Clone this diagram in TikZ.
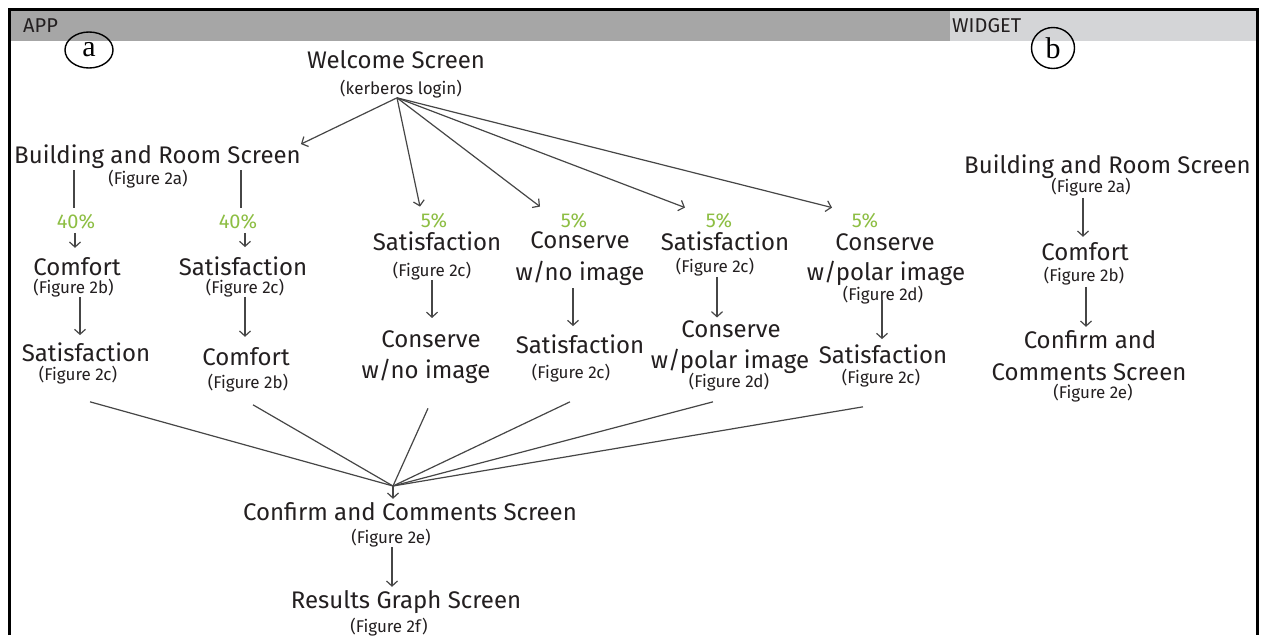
\documentclass[tikz,border=0pt]{standalone}
\usepackage{fontspec}
\setmainfont{Fira Sans}
\newfontfamily\serifa{Liberation Serif}
\usetikzlibrary{arrows.meta,calc,shapes.geometric}
\definecolor{txt}{RGB}{35,31,32}
\definecolor{ln}{RGB}{70,70,70}
\definecolor{pct}{RGB}{141,190,67}
\definecolor{appbar}{RGB}{166,166,166}
\definecolor{wbar}{RGB}{212,213,215}
\begin{document}
\begin{tikzpicture}[x=1pt,y=-1pt,
 big/.style={inner sep=0pt,anchor=base,text=txt,font=\fontsize{24}{26}\selectfont},
 sm/.style={inner sep=0pt,anchor=base,text=txt,font=\fontsize{17}{19}\selectfont},
 pc/.style={inner sep=0pt,anchor=base,text=pct,font=\fontsize{20}{22}\selectfont},
 hd/.style={inner sep=0pt,anchor=base west,text=txt,font=\fontsize{20}{22}\selectfont},
 tag/.style={draw=black,line width=1.4pt,ellipse,inner sep=0pt,text=black,font=\serifa\fontsize{30}{32}\selectfont},
 con/.style={draw=ln,line width=1.2pt},
 arr/.style={con,-{Straight Barb[length=5pt,width=11pt]}},
]
\useasboundingbox (0,0) rectangle (1261,635);
\fill[white] (0,0) rectangle (1261,635);
\fill[appbar] (10,11) rectangle (950,41);
\fill[wbar] (950,11) rectangle (1256,41);
\draw[line width=3pt] (9,635) -- (9,9.5) -- (1257,9.5) -- (1257,635);

\node[hd] (app) at (23,32) {APP};
\node[hd] (wid) at (952,32) {WIDGET};
\node[tag,minimum width=48pt,minimum height=36pt] (ta) at (89,50) {a};
\node[tag,minimum width=43pt,minimum height=41pt] (tb) at (1053,48) {b};

% app
\node[big] (welcome) at (396,68) {Welcome Screen};
\node[sm] (kerb) at (401,94) {(kerberos login)};
\node[big] (bapp) at (157.5,163) {Building and Room Screen};
\node[sm] (bappf) at (148,184) {(Figure 2a)};
\node[pc] (p1) at (76,228) {40\%};
\node[pc] (p2) at (238,228) {40\%};
\node[big] (c1) at (77,275) {Comfort};
\node[sm] (c1f) at (73.5,293) {(Figure 2b)};
\node[big] (c1b) at (86,361) {Satisfaction};
\node[sm] (c1bf) at (78,380) {(Figure 2c)};
\node[big] (c2) at (243,275) {Satisfaction};
\node[sm] (c2f) at (245,293) {(Figure 2c)};
\node[big] (c2b) at (246,365) {Comfort};
\node[sm] (c2bf) at (248,388) {(Figure 2b)};
\node[pc] (p3) at (434,227) {5\%};
\node[big] (c3) at (437,250) {Satisfaction};
\node[sm] (c3f) at (432,276) {(Figure 2c)};
\node[big] (c3b) at (431,347) {Conserve};
\node[big] (c3c) at (426,378) {w/no image};
\node[pc] (p4) at (574,227) {5\%};
\node[big] (c4) at (580,248) {Conserve};
\node[big] (c4b) at (580,280) {w/no image};
\node[big] (c4c) at (580,353) {Satisfaction};
\node[sm] (c4f) at (571,378) {(Figure 2c)};
\node[pc] (p5) at (719,227) {5\%};
\node[big] (c5) at (725,250) {Satisfaction};
\node[sm] (c5f) at (715,272) {(Figure 2c)};
\node[big] (c5b) at (731,337) {Conserve};
\node[big] (c5c) at (730,368) {w/polar image};
\node[sm] (c5cf) at (729,387) {(Figure 2d)};
\node[pc] (p6) at (865,227) {5\%};
\node[big] (c6) at (885,250) {Conserve};
\node[big] (c6b) at (886,280) {w/polar image};
\node[sm] (c6f) at (883,300) {(Figure 2d)};
\node[big] (c6c) at (883,363) {Satisfaction};
\node[sm] (c6cf) at (881,383) {(Figure 2c)};
\node[big] (cc) at (410,520) {Confirm and Comments Screen};
\node[sm] (ccf) at (391,543) {(Figure 2e)};
\node[big] (rg) at (406,608) {Results Graph Screen};
\node[sm] (rgf) at (389,632) {(Figure 2f)};

% widget
\node[big] (wb) at (1107.5,173) {Building and Room Screen};
\node[sm] (wbf) at (1091,192) {(Figure 2a)};
\node[big] (wc) at (1085,260) {Comfort};
\node[sm] (wcf) at (1084,281) {(Figure 2b)};
\node[big] (wd) at (1090,348) {Confirm and};
\node[big] (we) at (1089,380) {Comments Screen};
\node[sm] (wef) at (1093,398) {(Figure 2e)};

% fan from welcome
\coordinate (wo) at ($(kerb.south)+(-4,0)$);
\draw[arr] (wo) -- (bapp.north east);
\draw[arr] (wo) -- ($(p3.north)+(-14,-6)$);
\draw[arr] (wo) -- ($(p4.north)+(-34,-6)$);
\draw[arr] (wo) -- ($(p5.north)+(-34,-5)$);
\draw[arr] (wo) -- ($(p6.north)+(-33,-5)$);

% column 1
\draw[con] ($(bapp.south -| p1.north)+(-2,2)$) -- ($(p1.north)+(-2,-6)$);
\draw[arr] ($(p1.south)+(-1,4)$) -- ($(p1.south |- c1.north)+(-1,-9)$);
\draw[arr] ($(c1f.south)+(6.5,0)$) -- ($(c1f.south |- c1b.north)+(6.5,-7)$);
% column 2
\draw[con] ($(bapp.south -| p2.north)+(3,2)$) -- ($(p2.north)+(3,-6)$);
\draw[arr] ($(p2.south)+(7,4)$) -- ($(p2.south |- c2.north)+(7,-9)$);
\draw[arr] ($(c2f.south)+(0,0)$) -- ($(c2f.south |- c2b.north)+(0,-10)$);
% column 3
\draw[arr] (c3f.south) -- ($(c3f.south |- c3b.north)+(0,-12)$);
% column 4
\draw[arr] ($(c4b.south)+(-7,3)$) -- ($(c4b.south |- c4c.north)+(-7,-8)$);
% column 5
\draw[arr] ($(c5f.south)+(2,1)$) -- ($(c5f.south |- c5b.north)+(2,-2.5)$);
% column 6
\draw[arr] ($(c6f.south)+(-1,-4)$) -- ($(c6f.south |- c6c.north)+(-1,-5)$);

% converging lines
\coordinate (hub) at (393,486);
\draw[con] ($(c1bf.south)+(12,18)$) -- (hub);
\draw[con] ($(c2bf.south)+(5,13)$) -- (hub);
\draw[con] ($(c3c.south)+(2,25)$) -- (hub);
\draw[con] ($(c4f.south)+(-1,20)$) -- (hub);
\draw[con] ($(c5cf.south)+(-16,11)$) -- (hub);
\draw[con] ($(c6cf.south)+(-18,20)$) -- (hub);
\draw[arr] (hub) -- ($(hub |- cc.north)+(0,-3)$);
\draw[arr] ($(ccf.south)+(1,0)$) -- ($(ccf.south |- rg.north)+(1,-3)$);

% widget arrows
\draw[arr] ($(wbf.south)+(-8,2)$) -- ($(wbf.south |- wc.north)+(-8,-5)$);
\draw[arr] ($(wcf.south)+(2,2)$) -- ($(wcf.south |- wd.north)+(2,-3)$);
\end{tikzpicture}
\end{document}
